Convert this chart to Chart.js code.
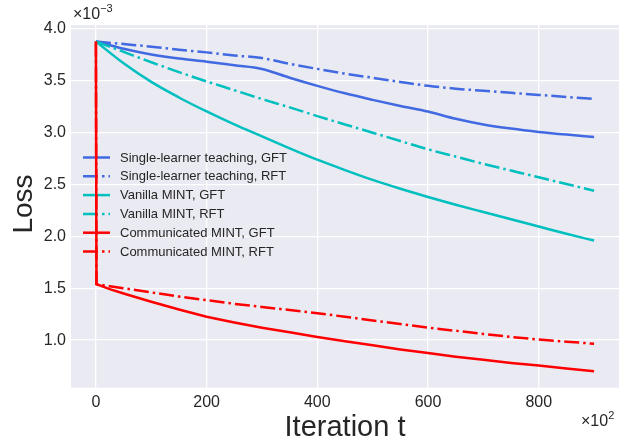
<!DOCTYPE html>
<html>
<head>
<meta charset="utf-8">
<script src="https://cdn.jsdelivr.net/npm/chart.js@4.4.0/dist/chart.umd.min.js"></script>
<style>
  html, body { margin: 0; padding: 0; background: #ffffff; }
  #wrap { width: 619px; height: 439px; }
</style>
</head>
<body>
<div id="wrap"><canvas id="lossChart"></canvas></div>
<script>
// Iteraciones (x 10^2) y pérdidas (x 10^-3)
const iterations = [0, 50, 100, 150, 200, 250, 300, 350, 400, 450, 500, 550, 600, 650, 700, 750, 800, 850, 900];
// las curvas rojas caen en la primera iteración
const redIterations = [0, 1, 25, 50, 100, 150, 200, 250, 300, 350, 400, 450, 500, 550, 600, 650, 700, 750, 800, 850, 900];

const singleGFT = [3.88, 3.81, 3.755, 3.715, 3.685, 3.65, 3.615, 3.53, 3.452, 3.38, 3.317, 3.258, 3.204, 3.135, 3.08, 3.04, 3.008, 2.982, 2.96];
const singleRFT = [3.88, 3.855, 3.83, 3.80, 3.775, 3.745, 3.72, 3.665, 3.616, 3.57, 3.53, 3.49, 3.452, 3.425, 3.405, 3.385, 3.365, 3.345, 3.326];
const vanillaGFT = [3.88, 3.67, 3.49, 3.34, 3.205, 3.08, 2.965, 2.85, 2.74, 2.64, 2.545, 2.46, 2.38, 2.305, 2.235, 2.165, 2.095, 2.025, 1.96];
const vanillaRFT = [3.88, 3.78, 3.68, 3.585, 3.495, 3.41, 3.325, 3.245, 3.16, 3.08, 3.0, 2.92, 2.84, 2.77, 2.70, 2.635, 2.57, 2.505, 2.44];
const commGFT = [3.88, 1.54, 1.492, 1.45, 1.37, 1.295, 1.225, 1.17, 1.12, 1.075, 1.03, 0.99, 0.95, 0.91, 0.875, 0.84, 0.81, 0.78, 0.755, 0.727, 0.70];
const commRFT = [3.88, 1.54, 1.52, 1.50, 1.46, 1.42, 1.385, 1.35, 1.32, 1.29, 1.26, 1.225, 1.19, 1.155, 1.12, 1.09, 1.06, 1.03, 1.005, 0.985, 0.965];

const seriesLabels = [
    'Single-learner teaching, GFT',
    'Single-learner teaching, RFT',
    'Vanilla MINT, GFT',
    'Vanilla MINT, RFT',
    'Communicated MINT, GFT',
    'Communicated MINT, RFT'
];
const xTicks = [0, 200, 400, 600, 800];
const yTicks = [1.0, 1.5, 2.0, 2.5, 3.0, 3.5, 4.0];

const BLUE = '#4169e1';
const CYAN = '#00bfbf';
const RED = '#ff0000';
const DASHDOT = [15, 4, 2.5, 4];
const FONT = "'Liberation Sans', Arial, sans-serif";
const TEXT = '#262626';

const toPoints = (xs, ys) => ys.map((y, i) => ({ x: xs[i], y: y }));

const seriesData = [
    toPoints(iterations, singleGFT),
    toPoints(iterations, singleRFT),
    toPoints(iterations, vanillaGFT),
    toPoints(iterations, vanillaRFT),
    toPoints(redIterations, commGFT),
    toPoints(redIterations, commRFT)
];
const seriesColors = [BLUE, BLUE, CYAN, CYAN, RED, RED];
const seriesDashed = [false, true, false, true, false, true];

const datasets = seriesData.map((d, i) => ({
    label: seriesLabels[i],
    data: d,
    showLine: true,
    borderColor: seriesColors[i],
    backgroundColor: seriesColors[i],
    borderWidth: 2.5,
    borderDash: seriesDashed[i] ? DASHDOT : [],
    pointRadius: 0,
    // las rojas tienen la caída vertical: sin suavizado
    cubicInterpolationMode: i < 4 ? 'monotone' : 'default',
    tension: 0,
    order: 5 - i   // el último se dibuja encima, como en matplotlib
}));

// fondo gris estilo seaborn
const bgPlugin = {
    id: 'bg',
    beforeDraw(chart) {
        const a = chart.chartArea;
        const ctx = chart.ctx;
        ctx.save();
        ctx.fillStyle = '#eaeaf2';
        ctx.fillRect(a.left, a.top, a.right - a.left, a.bottom - a.top);
        ctx.restore();
    }
};

// leyenda dentro del gráfico
const legendPlugin = {
    id: 'innerLegend',
    beforeDatasetsDraw(chart) {
        const ctx = chart.ctx;
        ctx.save();
        ctx.font = '13px ' + FONT;
        ctx.textBaseline = 'middle';
        seriesLabels.forEach((lab, i) => {
            const y = 157.5 + i * 18.8;
            ctx.strokeStyle = seriesColors[i];
            ctx.lineWidth = 2.5;
            ctx.setLineDash(seriesDashed[i] ? DASHDOT : []);
            ctx.beginPath();
            ctx.moveTo(83, y);
            ctx.lineTo(110, y);
            ctx.stroke();
            ctx.fillStyle = TEXT;
            ctx.fillText(lab, 120, y + 0.5);
        });
        ctx.restore();
    }
};

// títulos y multiplicadores
const textPlugin = {
    id: 'texts',
    afterDraw(chart) {
        const ctx = chart.ctx;
        const a = chart.chartArea;
        ctx.save();
        ctx.fillStyle = TEXT;
        ctx.textBaseline = 'alphabetic';

        ctx.font = '29px ' + FONT;
        ctx.textAlign = 'center';
        ctx.fillText('Iteration t', (a.left + a.right) / 2, 436);

        ctx.save();
        ctx.translate(31.5, 204);
        ctx.rotate(-Math.PI / 2);
        ctx.font = '28px ' + FONT;
        ctx.fillText('Loss', 0, 0);
        ctx.restore();

        ctx.textAlign = 'left';
        ctx.font = '16px ' + FONT;
        ctx.fillText('\u00d710', 73, 19);
        let w = ctx.measureText('\u00d710').width;
        ctx.font = '11px ' + FONT;
        ctx.fillText('\u22123', 73 + w, 12);

        ctx.font = '16px ' + FONT;
        ctx.fillText('\u00d710', 581, 426);
        w = ctx.measureText('\u00d710').width;
        ctx.font = '11px ' + FONT;
        ctx.fillText('2', 581 + w, 419);
        ctx.restore();
    }
};

const ctx = document.getElementById('lossChart').getContext('2d');
const lossChart = new Chart(ctx, {
    type: 'scatter',
    data: { datasets: datasets },
    options: {
        responsive: true,
        maintainAspectRatio: false,
        animation: false,
        layout: { padding: { top: 25, right: 0, bottom: 0, left: 0 } },
        plugins: {
            legend: { display: false },
            tooltip: { enabled: false }
        },
        scales: {
            x: {
                type: 'linear',
                min: -45,
                max: 945,
                afterBuildTicks: (s) => { s.ticks = xTicks.map(v => ({ value: v })); },
                afterFit: (s) => { s.height = 51.3; },
                grid: { color: '#ffffff', lineWidth: 1.3, drawTicks: false },
                border: { display: false },
                ticks: {
                    color: TEXT,
                    font: { family: FONT, size: 16 },
                    padding: 5,
                    maxRotation: 0,
                    callback: (v) => String(v)
                }
            },
            y: {
                type: 'linear',
                min: 0.541,
                max: 4.039,
                afterBuildTicks: (s) => { s.ticks = yTicks.map(v => ({ value: v })); },
                afterFit: (s) => { s.width = 71; },
                grid: { color: '#ffffff', lineWidth: 1.3, drawTicks: false },
                border: { display: false },
                ticks: {
                    color: TEXT,
                    font: { family: FONT, size: 16 },
                    padding: 5,
                    callback: (v) => v.toFixed(1)
                }
            }
        }
    },
    plugins: [bgPlugin, legendPlugin, textPlugin]
});
</script>
</body>
</html>
